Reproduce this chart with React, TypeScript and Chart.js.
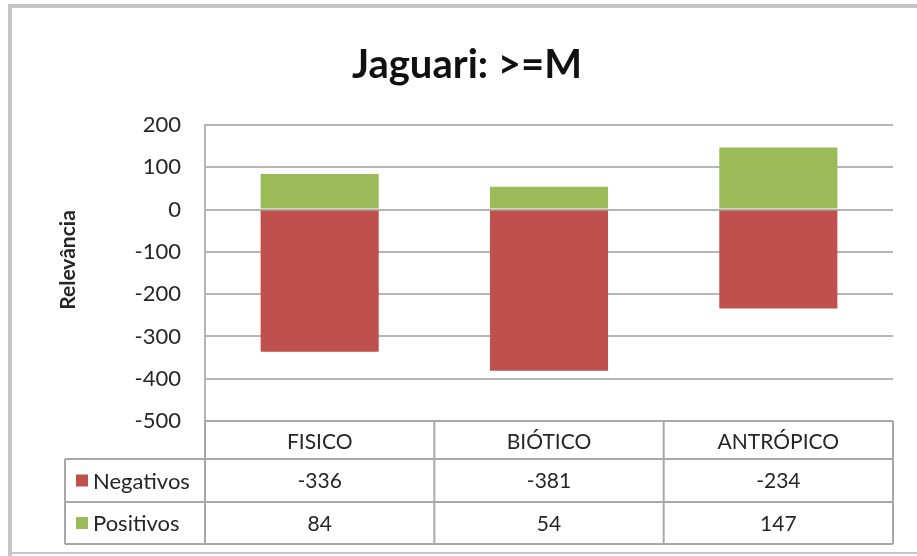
import React, { useEffect, useRef } from "react";
import { Chart, registerables } from "chart.js";

Chart.register(...registerables);

const chartTitle = "Jaguari: >=M";
const yAxisTitle = "Relevância";
const categories = ["FISICO", "BIÓTICO", "ANTRÓPICO"];
const seriesNames = ["Negativos", "Positivos"];
const negativos = [-336, -381, -234];
const positivos = [84, 54, 147];
const seriesColors = ["#C0504D", "#9BBB59"];
const yMin = -500;
const yMax = 200;
const yStep = 100;

const FONT = "Lato, 'Open Sans', sans-serif";
const GRID = "#b5b5b5";
const TEXT = "#262626";

const tablePlugin = {
  id: "excelFrameAndTable",
  afterDraw(chart: any) {
    const ctx = chart.ctx as CanvasRenderingContext2D;
    const area = chart.chartArea;
    const xs = chart.scales.x;
    ctx.save();

    // outer frame
    ctx.strokeStyle = "#c6c6c6";
    ctx.lineWidth = 4;
    ctx.beginPath();
    ctx.moveTo(10, 556);
    ctx.lineTo(10, 6);
    ctx.lineTo(917, 6);
    ctx.stroke();
    ctx.lineWidth = 2;
    ctx.beginPath();
    ctx.moveTo(10, 553);
    ctx.lineTo(917, 553);
    ctx.stroke();

    // title
    ctx.fillStyle = "#111";
    ctx.font = `bold 40px ${FONT}`;
    ctx.textAlign = "center";
    ctx.textBaseline = "middle";
    ctx.fillText(chartTitle, 467, 65);

    // y axis title
    ctx.save();
    ctx.translate(68, 260);
    ctx.rotate(-Math.PI / 2);
    ctx.font = `bold 21px ${FONT}`;
    ctx.fillStyle = TEXT;
    ctx.fillText(yAxisTitle, 0, 0);
    ctx.restore();

    // data table
    const n = categories.length;
    const catW = (area.right - area.left) / n;
    const top = area.bottom;
    const hdrB = top + 38;
    const r1B = hdrB + 43;
    const r2B = r1B + 42;
    const tableLeft = 65;

    ctx.strokeStyle = "#a8a8a8";
    ctx.lineWidth = 2;
    ctx.beginPath();
    ctx.moveTo(area.left, top);
    ctx.lineTo(area.right, top);
    [hdrB, r1B, r2B].forEach((y) => {
      ctx.moveTo(tableLeft, y);
      ctx.lineTo(area.right, y);
    });
    ctx.moveTo(tableLeft, hdrB);
    ctx.lineTo(tableLeft, r2B);
    for (let i = 0; i <= n; i++) {
      const x = area.left + catW * i;
      ctx.moveTo(x, top);
      ctx.lineTo(x, r2B);
    }
    ctx.stroke();

    ctx.font = `21px ${FONT}`;
    ctx.fillStyle = TEXT;
    ctx.textAlign = "center";
    ctx.textBaseline = "middle";
    const rows = [negativos, positivos];
    const rowMid = [(hdrB + r1B) / 2, (r1B + r2B) / 2];
    categories.forEach((c, i) => {
      const cx = xs.getPixelForValue(i);
      ctx.fillText(c, cx, (top + hdrB) / 2 + 2);
      rows.forEach((vals, r) => {
        ctx.fillText(String(vals[i]), cx, rowMid[r] + 1);
      });
    });

    ctx.textAlign = "left";
    ctx.font = `22px ${FONT}`;
    seriesNames.forEach((name, r) => {
      ctx.fillStyle = seriesColors[r];
      ctx.fillRect(76, rowMid[r] - 6, 12, 12);
      ctx.fillStyle = TEXT;
      ctx.fillText(name, 93, rowMid[r] + 1);
    });

    ctx.restore();
  },
};

export default function App() {
  const ref = useRef<HTMLCanvasElement>(null);

  useEffect(() => {
    document.body.style.margin = "0";
    const canvas = ref.current;
    if (!canvas) return;
    const chart = new Chart(canvas, {
      type: "bar",
      data: {
        labels: categories,
        datasets: [
          {
            label: seriesNames[0],
            data: negativos,
            backgroundColor: seriesColors[0],
            barPercentage: 0.515,
            categoryPercentage: 1,
          },
          {
            label: seriesNames[1],
            data: positivos,
            backgroundColor: seriesColors[1],
            barPercentage: 0.515,
            categoryPercentage: 1,
          },
        ],
      },
      options: {
        responsive: false,
        animation: false,
        layout: { padding: { left: 0, right: 24, top: 125, bottom: 135 } },
        plugins: {
          legend: { display: false },
          title: { display: false },
          tooltip: { enabled: false },
        },
        scales: {
          x: {
            stacked: true,
            display: false,
            offset: true,
          },
          y: {
            stacked: true,
            min: yMin,
            max: yMax,
            ticks: {
              stepSize: yStep,
              padding: 24,
              color: TEXT,
              font: { family: FONT, size: 22 },
            },
            grid: { color: GRID, lineWidth: 2, drawTicks: false },
            border: { display: true, color: GRID, width: 2 },
            afterFit: (scale: any) => {
              scale.width = 205;
            },
          },
        },
      },
      plugins: [tablePlugin],
    });
    return () => chart.destroy();
  }, []);

  return <canvas ref={ref} width={917} height={556} style={{ display: "block" }} />;
}
